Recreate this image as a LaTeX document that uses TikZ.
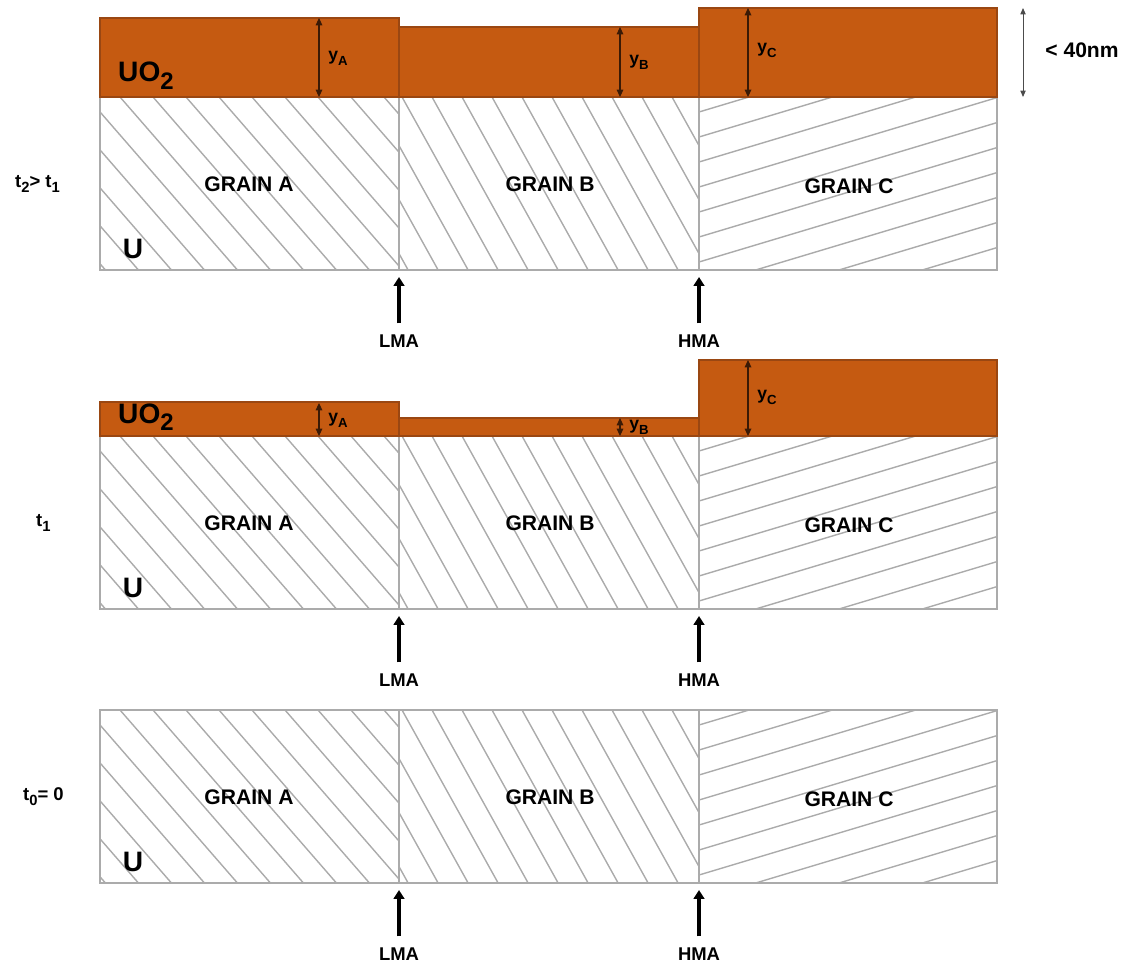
\documentclass[tikz,border=0pt]{standalone}
\usepackage{fontspec}
\setmainfont{Liberation Sans}
\usetikzlibrary{arrows.meta}
\definecolor{oxide}{HTML}{C55A11}
\definecolor{oxideline}{HTML}{9A4712}
\definecolor{grainline}{HTML}{ABABAB}
\definecolor{dimline}{HTML}{3A1A06}
% lowered subscript as in the drawing
\newcommand{\lowsub}[2][0.8]{\raisebox{-0.28em}{\scalebox{#1}{#2}}}
\tikzset{
  grain/.style={draw=grainline, line width=1.1pt},
  hatch/.style={grainline, line width=0.8pt},
  oxidelayer/.style={fill=oxide, draw=oxideline, line width=0.6pt},
  dimarrow/.style={dimline, line width=0.6pt,
    {Triangle[length=4.2pt,width=3.8pt]}-{Triangle[length=4.2pt,width=3.8pt]}},
  bdarrow/.style={black, line width=2.2pt, -{Triangle[length=5pt,width=6pt]}},
  graintext/.style={font=\bfseries\fontsize{12}{14}\selectfont},
  bigtext/.style={font=\bfseries\fontsize{16}{18}\selectfont},
  smalltext/.style={font=\bfseries\fontsize{10.5}{12}\selectfont},
  dimtext/.style={font=\bfseries\fontsize{10}{11}\selectfont},
}
\begin{document}
\begin{tikzpicture}[x=0.02cm, y=-0.02cm]
  \useasboundingbox (0,0) rectangle (1121,962);
  % Panels: name / top of the grains / time label / label x
  \foreach \p/\top/\tlab/\tx in {
      c/97/{t\lowsub{2}> t\lowsub{1}}/9,
      b/436/{t\lowsub{1}}/30,
      a/710/{t\lowsub{0}= 0}/17}
  {
    \pgfmathsetmacro\bot{\top+173}
    % Grain A hatch
    \begin{scope}
      \clip (100,\top) rectangle (399,\bot);
      \foreach \k in {-5,...,9} \draw[hatch] ({120+33*\k},\top) -- ++(160,184);
    \end{scope}
    % Grain B hatch
    \begin{scope}
      \clip (399,\top) rectangle (699,\bot);
      \foreach \k in {-4,...,10} \draw[hatch] ({402+30*\k},\top) -- ++(100,180);
    \end{scope}
    % Grain C hatch
    \begin{scope}
      \clip (699,\top) rectangle (997,\bot);
      \foreach \k in {0,...,10} \draw[hatch] (699,{\top+15+25*\k}) -- ++(300,-90);
    \end{scope}
    % Grain outlines and boundaries
    \draw[grain] (100,\top) rectangle (997,\bot);
    \draw[grain] (399,\top) -- (399,\bot);
    \draw[grain] (699,\top) -- (699,\bot);
    % Texts
    \node[graintext] (gA\p) at (249,\top+87) {GRAIN A};
    \node[graintext] (gB\p) at (550,\top+87) {GRAIN B};
    \node[graintext] (gC\p) at (849,\top+89) {GRAIN C};
    \node[bigtext] (u\p) at (133,\bot-21) {U};
    \node[smalltext, anchor=west] (t\p) at (\tx,\top+87) {\tlab};
    % Boundary arrows
    \node[smalltext] (lma\p) at (399,\bot+71) {LMA};
    \node[smalltext] (hma\p) at (699,\bot+71) {HMA};
    \coordinate (lmaT\p) at (399,\bot+7);
    \coordinate (hmaT\p) at (699,\bot+7);
    \draw[bdarrow] (lma\p.north) ++(0,-5) -- (lmaT\p);
    \draw[bdarrow] (hma\p.north) ++(0,-5) -- (hmaT\p);
  }
  % Oxide layer at t2
  \draw[oxidelayer] (100,18) rectangle (399,97);
  \draw[oxidelayer] (399,27) rectangle (699,97);
  \draw[oxidelayer] (699,8) rectangle (997,97);
  \node[bigtext, anchor=base west] (oxc) at (112,82) {UO\lowsub[0.85]{2}};
  \draw[dimarrow] (319,18) -- (319,97);
  \draw[dimarrow] (620,27) -- (620,97);
  \draw[dimarrow] (748,8) -- (748,97);
  \node[dimtext] (yAc) at (338,58) {y\lowsub[0.75]{A}};
  \node[dimtext] (yBc) at (639,62) {y\lowsub[0.75]{B}};
  \node[dimtext] (yCc) at (767,50) {y\lowsub[0.75]{C}};
  % Thickness scale
  \draw[black!70, line width=0.5pt,
    {Triangle[length=3.6pt,width=3pt]}-{Triangle[length=3.6pt,width=3pt]}]
    (1023,8) -- (1023,97);
  \node[graintext] (scale) at (1082,50) {< 40nm};
  % Oxide layer at t1
  \draw[oxidelayer] (100,402) rectangle (399,436);
  \draw[oxidelayer] (399,418) rectangle (699,436);
  \draw[oxidelayer] (699,360) rectangle (997,436);
  \node[bigtext, anchor=base west] (oxb) at (112,423) {UO\lowsub[0.85]{2}};
  \draw[dimarrow] (319,403) -- (319,436);
  \draw[dimarrow] (620,418) -- (620,436);
  \draw[dimarrow] (748,360) -- (748,436);
  \node[dimtext] (yAb) at (338,420) {y\lowsub[0.75]{A}};
  \node[dimtext] (yBb) at (639,427) {y\lowsub[0.75]{B}};
  \node[dimtext] (yCb) at (767,397) {y\lowsub[0.75]{C}};
\end{tikzpicture}
\end{document}
